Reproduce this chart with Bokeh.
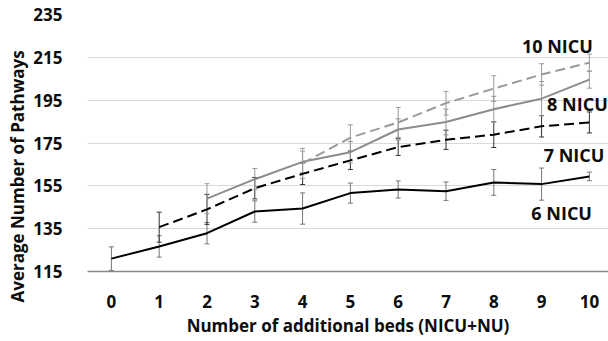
from bokeh.plotting import figure
from bokeh.models import ColumnDataSource, Whisker, Label, Range1d, FixedTicker, TeeHead, Title
from bokeh.embed import file_html
from bokeh.resources import INLINE

beds = list(range(11))
tick_labels = [str(b) for b in beds]

# 6 NICU (black solid)
nicu6 = [121.0, 126.7, 132.9, 143.0, 144.4, 151.6, 153.3, 152.5, 156.6, 155.8, 159.4]
nicu6_err = [5.5, 5.0, 5.0, 5.0, 7.3, 4.7, 4.0, 4.3, 6.0, 7.5, 2.0]
# 7 NICU (black dashed), starts at 1 bed
nicu7_x = list(range(1, 11))
nicu7 = [135.7, 144.0, 153.9, 160.6, 166.9, 173.1, 176.5, 178.9, 182.8, 184.6]
nicu7_err = [7.0, 7.0, 5.0, 5.0, 4.3, 3.9, 4.5, 6.0, 5.0, 4.9]
# 8 NICU (gray solid), starts at 2 beds
nicu8_x = list(range(2, 11))
nicu8 = [149.0, 158.1, 166.2, 170.7, 181.3, 184.8, 190.8, 195.7, 204.6]
nicu8_err = [7.0, 5.0, 5.0, 5.0, 5.0, 6.0, 6.0, 8.0, 4.0]
# 10 NICU (gray dashed), starts at 4 beds
nicu10_x = list(range(4, 11))
nicu10 = [165.5, 177.5, 184.6, 193.6, 200.4, 207.0, 212.5]
nicu10_err = [7.0, 6.0, 7.0, 5.5, 6.0, 5.0, 4.0]

series_names = ["10 NICU", "8 NICU", "7 NICU", "6 NICU"]

BLACK = "#000000"
GRAY = "#8c8c8c"
LIGHT_GRAY = "#9a9a9a"
FONT = "Open Sans"
TEXT_COLOR = "#0d0d0d"

p = figure(width=608, height=341, output_backend="svg", toolbar_location=None,
           x_range=Range1d(-0.5, 10.4), y_range=Range1d(115, 235),
           min_border_left=87, min_border_right=0, min_border_top=14, min_border_bottom=70)
p.outline_line_color = None
p.background_fill_color = "white"

p.xgrid.grid_line_color = None
p.ygrid.grid_line_color = "#d9d9d9"
p.ygrid.grid_line_width = 1

p.xaxis.ticker = FixedTicker(ticks=beds)
p.xaxis.major_label_overrides = {b: s for b, s in zip(beds, tick_labels)}
p.yaxis.ticker = FixedTicker(ticks=list(range(115, 236, 20)))

for ax in (p.xaxis, p.yaxis):
    ax.major_tick_line_color = None
    ax.minor_tick_line_color = None
    ax.major_label_text_font = FONT
    ax.major_label_text_font_style = "bold"
    ax.major_label_text_font_size = "17px"
    ax.major_label_text_color = TEXT_COLOR
    ax.axis_label_text_font = FONT
    ax.axis_label_text_font_style = "bold"
    ax.axis_label_text_font_size = "17px"
    ax.axis_label_text_color = TEXT_COLOR

p.yaxis.axis_line_color = None
p.xaxis.axis_line_color = "#888888"
p.xaxis.axis_line_width = 1.5
p.xaxis.major_label_standoff = 17
p.yaxis.major_label_standoff = 19
p.xaxis.axis_label = "Number of additional beds (NICU+NU)"
p.xaxis.axis_label_standoff = 3

# y-axis title, starting below the frame bottom as in the reference
ytitle = Title(text="Average Number of Pathways", align="left", offset=-31,
               standoff=4, text_font=FONT, text_font_style="bold", text_font_size="17px",
               text_color=TEXT_COLOR)
p.add_layout(ytitle, "left")


def add_series(xs, ys, errs, color, dash, err_color):
    src = ColumnDataSource(dict(x=xs, y=ys,
                                lo=[v - e for v, e in zip(ys, errs)],
                                hi=[v + e for v, e in zip(ys, errs)]))
    w = Whisker(source=src, base="x", lower="lo", upper="hi",
                line_color=err_color, line_width=1,
                lower_head=TeeHead(size=5, line_color=err_color, line_width=1),
                upper_head=TeeHead(size=5, line_color=err_color, line_width=1))
    p.add_layout(w)
    p.line("x", "y", source=src, line_color=color, line_width=2, line_dash=dash)


add_series(beds, nicu6, nicu6_err, BLACK, "solid", "#777777")
add_series(nicu7_x, nicu7, nicu7_err, BLACK, "10 5", "#333333")
add_series(nicu8_x, nicu8, nicu8_err, GRAY, "solid", "#999999")
add_series(nicu10_x, nicu10, nicu10_err, LIGHT_GRAY, "10 5", "#999999")

label_pos = [(9.33, 220.5), (9.75, 193.4), (9.68, 169.6), (9.42, 142.5)]
for name, (lx, ly) in zip(series_names, label_pos):
    p.add_layout(Label(x=lx, y=ly, text=name, text_align="center", text_baseline="middle",
                       text_font=FONT, text_font_style="bold", text_font_size="18px",
                       text_color=TEXT_COLOR))

open("out.html", "w").write(file_html(p, INLINE))
